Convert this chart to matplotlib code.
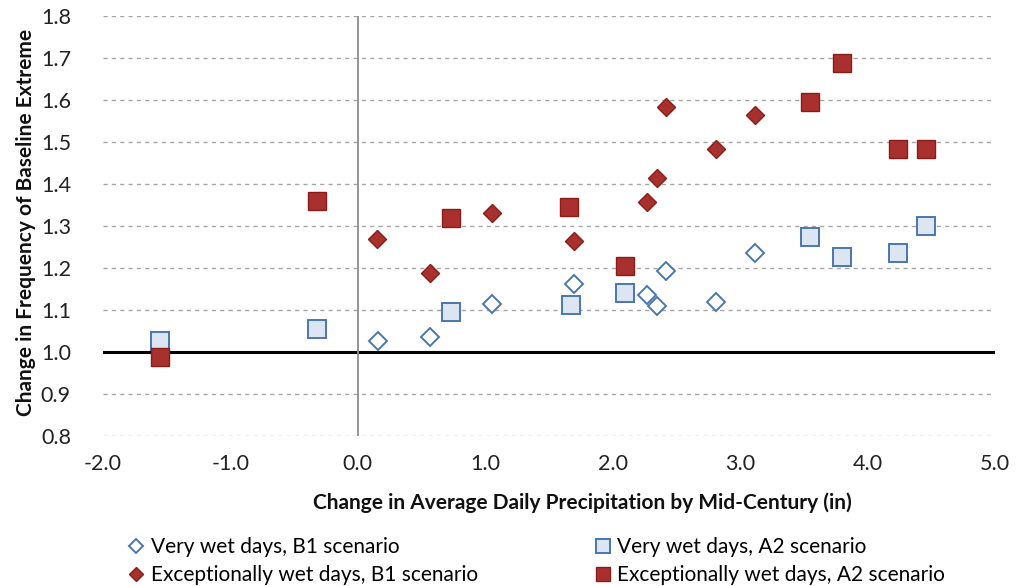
import matplotlib
matplotlib.use("Agg")
import matplotlib.pyplot as plt

plt.rcParams['font.family'] = ['Lato', 'DejaVu Sans']

# Very wet days, B1 scenario
vw_b1_x = [0.16, 0.57, 1.05, 1.70, 2.27, 2.35, 2.42, 2.81, 3.12]
vw_b1_y = [1.026, 1.036, 1.114, 1.162, 1.136, 1.110, 1.193, 1.120, 1.236]
# Very wet days, A2 scenario
vw_a2_x = [-1.55, -0.32, 0.73, 1.67, 2.10, 3.55, 3.80, 4.24, 4.46]
vw_a2_y = [1.026, 1.055, 1.095, 1.112, 1.140, 1.274, 1.226, 1.236, 1.300]
# Exceptionally wet days, B1 scenario
ex_b1_x = [0.15, 0.57, 1.05, 1.70, 2.27, 2.35, 2.42, 2.81, 3.12]
ex_b1_y = [1.269, 1.188, 1.331, 1.265, 1.356, 1.415, 1.584, 1.483, 1.564]
# Exceptionally wet days, A2 scenario
ex_a2_x = [-1.55, -0.32, 0.73, 1.66, 2.10, 3.55, 3.80, 4.24, 4.46]
ex_a2_y = [0.988, 1.360, 1.319, 1.346, 1.205, 1.594, 1.688, 1.483, 1.483]

labels = ["Very wet days, B1 scenario", "Exceptionally wet days, B1 scenario",
          "Very wet days, A2 scenario", "Exceptionally wet days, A2 scenario"]

xticks = [-2.0, -1.0, 0.0, 1.0, 2.0, 3.0, 4.0, 5.0]
yticks = [0.8, 0.9, 1.0, 1.1, 1.2, 1.3, 1.4, 1.5, 1.6, 1.7, 1.8]

blue_edge = '#4A76B0'
blue_fill = '#DCE6F2'
red_fill = '#A8302D'
red_edge = '#8A1C1A'

fig = plt.figure(figsize=(10.29, 5.86), dpi=100)
ax = fig.add_axes([0.100, 0.256, 0.867, 0.717])

ax.set_xlim(-2.0, 5.0)
ax.set_ylim(0.8, 1.8)
for y in yticks:
    if abs(y - 1.0) > 1e-9:
        ax.axhline(y, color='#A6A6A6', lw=1.0, ls=(0, (3, 3)), zorder=1)
ax.axhline(1.0, color='black', lw=2.2, zorder=2)
ax.axvline(0.0, color='#8C8C8C', lw=1.3, zorder=2)

h1, = ax.plot(vw_b1_x, vw_b1_y, ls='none', marker='D', ms=9.5, mfc='white',
              mec=blue_edge, mew=1.4, zorder=3)
h3, = ax.plot(vw_a2_x, vw_a2_y, ls='none', marker='s', ms=12.5, mfc=blue_fill,
              mec=blue_edge, mew=1.4, zorder=3)
h2, = ax.plot(ex_b1_x, ex_b1_y, ls='none', marker='D', ms=9.5, mfc=red_fill,
              mec=red_edge, mew=1.0, zorder=4)
h4, = ax.plot(ex_a2_x, ex_a2_y, ls='none', marker='s', ms=12.5, mfc=red_fill,
              mec=red_edge, mew=1.0, zorder=4)

for s in ax.spines.values():
    s.set_visible(False)
ax.set_xticks(xticks)
ax.set_xticklabels([f"{v:.1f}" for v in xticks])
ax.set_yticks(yticks)
ax.set_yticklabels([f"{v:.1f}" for v in yticks])
ax.tick_params(length=0, labelsize=15.5, colors='#222222')
ax.tick_params(axis='x', pad=13)
ax.tick_params(axis='y', pad=23)

fig.text(0.566, 0.142, "Change in Average Daily Precipitation by Mid-Century (in)",
         ha='center', va='center', fontsize=15, fontweight='bold', color='#111111')
fig.text(0.025, 0.62, "Change in Frequency of Baseline Extreme", rotation=90,
         ha='center', va='center', fontsize=15, fontweight='bold', color='#111111')

leg = fig.legend([h1, h2, h3, h4], labels, ncol=2, loc='lower left',
                 bbox_to_anchor=(0.106, -0.031), frameon=False, fontsize=15,
                 handlelength=0.8, handletextpad=0.3, columnspacing=5.6,
                 labelspacing=0.4, markerscale=0.75)

fig.savefig("out.png", dpi=100)
